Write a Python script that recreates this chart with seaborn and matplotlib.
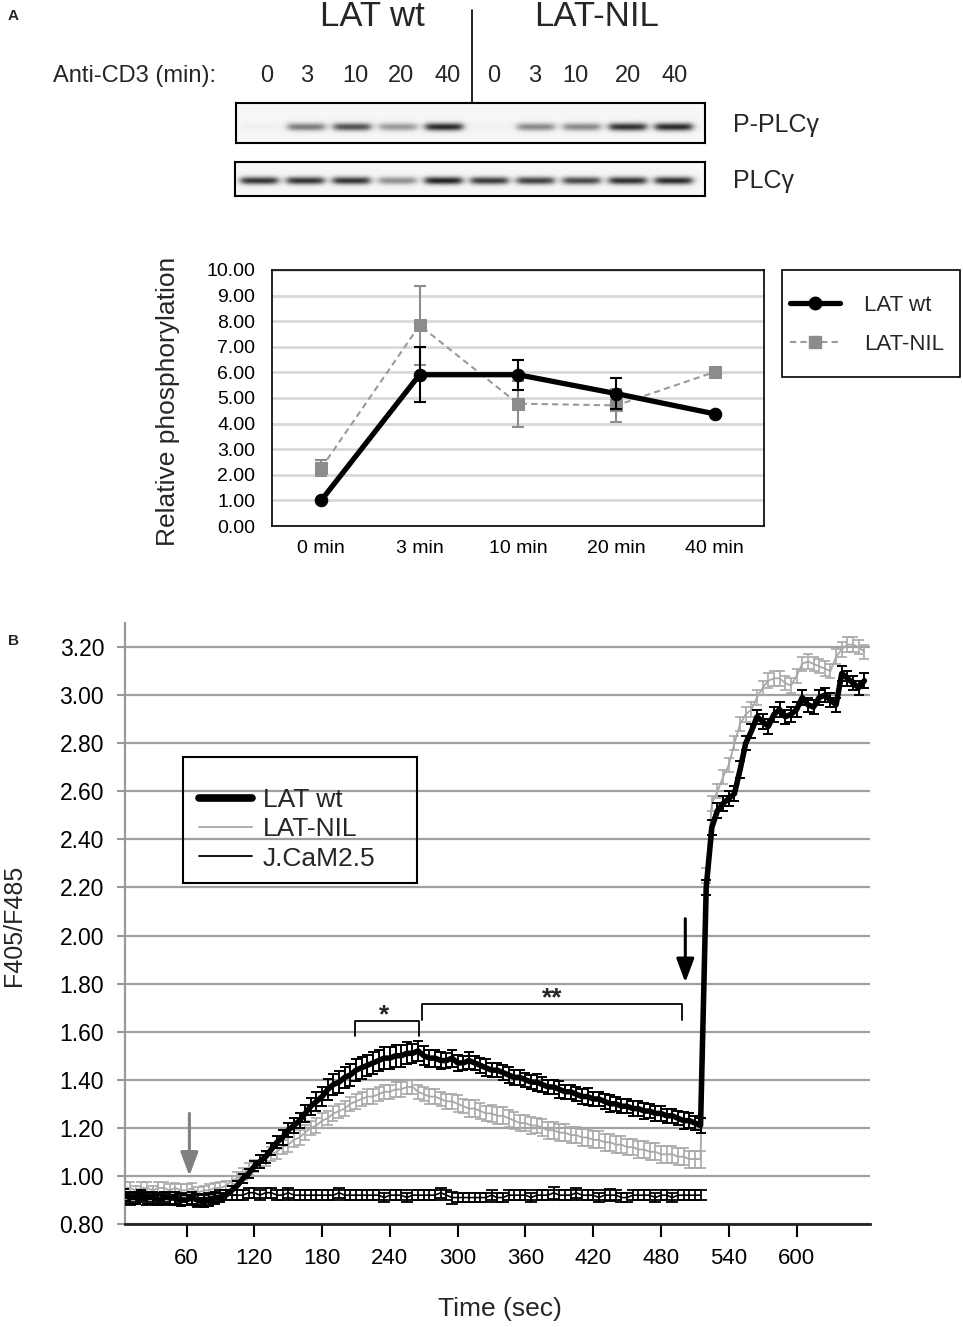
import matplotlib
matplotlib.use("Agg")
import numpy as np
import pandas as pd
import matplotlib.pyplot as plt
from matplotlib.lines import Line2D
from matplotlib.patches import Rectangle
import seaborn as sns

# ------------------------------------------------------------------ data
# Panel A - western blot
lane_times = ["0", "3", "10", "20", "40", "0", "3", "10", "20", "40"]
blot_groups = ["LAT wt", "LAT-NIL"]
blot_rows = ["P-PLC\u03b3", "PLC\u03b3"]
p_plc_band = [0.03, 0.50, 0.68, 0.38, 0.85, 0.02, 0.45, 0.45, 0.82, 0.85]
plc_band = [0.80, 0.80, 0.80, 0.42, 0.88, 0.78, 0.75, 0.72, 0.82, 0.84]

# Panel A - quantification
timepoints_a = ["0 min", "3 min", "10 min", "20 min", "40 min"]
wt_rel = [1.00, 5.91, 5.91, 5.17, 4.38]
wt_rel_err = [0.0, 1.07, 0.58, 0.60, 0.0]
nil_rel = [2.26, 7.84, 4.78, 4.71, 6.02]
nil_rel_err = [0.31, 1.55, 0.90, 0.64, 0.0]
yticks_a = [0, 1, 2, 3, 4, 5, 6, 7, 8, 9, 10]

# Panel B - calcium flux (F405/F485), one reading every 5 s
time_b = list(range(5, 665, 5))
wt_ratio = [
    0.92, 0.91, 0.91, 0.92, 0.91, 0.91, 0.90, 0.91, 0.91, 0.91,
    0.90, 0.90, 0.91, 0.90, 0.89, 0.90, 0.91, 0.91, 0.92,
    0.94, 0.96, 0.99, 1.01, 1.04, 1.06, 1.08, 1.11, 1.14, 1.16,
    1.19, 1.21, 1.23, 1.26, 1.29, 1.31, 1.33, 1.36, 1.38, 1.39,
    1.41, 1.42, 1.44, 1.45, 1.46, 1.47, 1.48, 1.49, 1.49, 1.50,
    1.50, 1.51, 1.51, 1.52, 1.50, 1.49, 1.49, 1.48, 1.48, 1.49,
    1.47, 1.47, 1.48, 1.47, 1.46, 1.45, 1.44, 1.44, 1.43, 1.42,
    1.41, 1.41, 1.40, 1.39, 1.39, 1.38, 1.37, 1.37, 1.36, 1.35,
    1.35, 1.34, 1.33, 1.33, 1.32, 1.32, 1.31, 1.30, 1.30, 1.29,
    1.29, 1.28, 1.28, 1.27, 1.27, 1.26, 1.26, 1.25, 1.25, 1.24,
    1.23, 1.23, 1.22, 1.21,
    2.20, 2.45, 2.52, 2.55, 2.57, 2.59, 2.69, 2.80, 2.85, 2.91,
    2.89, 2.87, 2.92, 2.94, 2.91, 2.92, 2.94, 2.99, 2.96, 2.95,
    2.99, 3.00, 2.98, 2.96, 3.09, 3.07, 3.05, 3.03, 3.06,
]
wt_ratio_err = [
    0.025, 0.025, 0.025, 0.020, 0.025, 0.025, 0.020, 0.025, 0.025, 0.025,
    0.025, 0.020, 0.025, 0.025, 0.020, 0.025, 0.025, 0.020, 0.020,
    0.020, 0.020, 0.020, 0.020, 0.020, 0.025, 0.025, 0.025, 0.025, 0.030,
    0.030, 0.030, 0.030, 0.035, 0.035, 0.040, 0.040, 0.045, 0.045, 0.045,
    0.045, 0.045, 0.045, 0.045, 0.045, 0.045, 0.045, 0.045, 0.045, 0.045,
    0.045, 0.045, 0.040, 0.040, 0.040, 0.035, 0.035, 0.035, 0.030, 0.035,
    0.035, 0.030, 0.035, 0.030, 0.030, 0.035, 0.030, 0.030, 0.030, 0.035,
    0.030, 0.030, 0.030, 0.030, 0.035, 0.030, 0.030, 0.030, 0.035, 0.030,
    0.030, 0.030, 0.030, 0.035, 0.030, 0.030, 0.030, 0.035, 0.030, 0.030,
    0.030, 0.030, 0.030, 0.035, 0.030, 0.030, 0.030, 0.030, 0.030, 0.030,
    0.035, 0.030, 0.030, 0.030,
    0.030, 0.030, 0.030, 0.030, 0.030, 0.030, 0.035, 0.030, 0.030, 0.030,
    0.030, 0.030, 0.030, 0.030, 0.030, 0.030, 0.030, 0.030, 0.030, 0.030,
    0.030, 0.030, 0.030, 0.030, 0.030, 0.030, 0.030, 0.030, 0.030,
]
nil_ratio = [
    0.95, 0.95, 0.94, 0.95, 0.95, 0.94, 0.95, 0.95, 0.94, 0.95,
    0.94, 0.94, 0.95, 0.93, 0.94, 0.94, 0.95, 0.95, 0.96,
    0.98, 0.99, 1.01, 1.03, 1.04, 1.06, 1.07, 1.09, 1.10, 1.12,
    1.13, 1.15, 1.16, 1.18, 1.20, 1.21, 1.23, 1.24, 1.26, 1.27,
    1.28, 1.30, 1.31, 1.32, 1.33, 1.33, 1.34, 1.35, 1.35, 1.36,
    1.36, 1.37, 1.37, 1.35, 1.34, 1.33, 1.33, 1.32, 1.31, 1.31,
    1.30, 1.29, 1.28, 1.28, 1.27, 1.26, 1.26, 1.25, 1.25, 1.24,
    1.23, 1.22, 1.22, 1.21, 1.21, 1.20, 1.19, 1.19, 1.18, 1.18,
    1.17, 1.17, 1.16, 1.16, 1.15, 1.15, 1.14, 1.14, 1.13, 1.13,
    1.12, 1.12, 1.11, 1.11, 1.10, 1.10, 1.09, 1.09, 1.09, 1.08,
    1.08, 1.07, 1.07, 1.07,
    2.25, 2.55, 2.60, 2.66, 2.71, 2.80, 2.88, 2.92, 2.94, 2.99,
    3.03, 3.06, 3.07, 3.07, 3.05, 3.04, 3.08, 3.13, 3.14, 3.13,
    3.12, 3.11, 3.10, 3.16, 3.19, 3.21, 3.21, 3.20, 3.18,
]
nil_ratio_err = [
    0.025, 0.025, 0.020, 0.025, 0.025, 0.020, 0.025, 0.025, 0.025, 0.020,
    0.025, 0.025, 0.020, 0.025, 0.020, 0.025, 0.020, 0.025, 0.020,
    0.020, 0.025, 0.025, 0.025, 0.025, 0.025, 0.030, 0.030, 0.030, 0.030,
    0.030, 0.030, 0.030, 0.030, 0.030, 0.030, 0.030, 0.030, 0.030, 0.030,
    0.030, 0.030, 0.030, 0.030, 0.030, 0.030, 0.030, 0.030, 0.030, 0.030,
    0.030, 0.030, 0.030, 0.030, 0.030, 0.030, 0.030, 0.030, 0.030, 0.030,
    0.035, 0.030, 0.035, 0.035, 0.035, 0.030, 0.035, 0.035, 0.035, 0.035,
    0.035, 0.035, 0.035, 0.035, 0.030, 0.035, 0.035, 0.035, 0.035, 0.035,
    0.035, 0.035, 0.035, 0.035, 0.035, 0.035, 0.035, 0.035, 0.035, 0.035,
    0.035, 0.035, 0.035, 0.035, 0.035, 0.035, 0.035, 0.035, 0.035, 0.035,
    0.035, 0.035, 0.035, 0.035,
    0.030, 0.030, 0.030, 0.030, 0.030, 0.030, 0.030, 0.030, 0.030, 0.030,
    0.030, 0.030, 0.030, 0.030, 0.030, 0.030, 0.030, 0.030, 0.030, 0.030,
    0.030, 0.030, 0.030, 0.030, 0.030, 0.030, 0.030, 0.030, 0.030,
]
jcam_ratio = [
    0.91, 0.90, 0.91, 0.91, 0.90, 0.91, 0.90, 0.91, 0.90, 0.90,
    0.91, 0.90, 0.90, 0.89, 0.90, 0.91, 0.91, 0.92, 0.92, 0.92,
    0.92, 0.92, 0.93, 0.93, 0.92, 0.93, 0.93, 0.92, 0.92, 0.93,
    0.92, 0.92, 0.92, 0.92, 0.92, 0.92, 0.92, 0.92, 0.93, 0.92,
    0.92, 0.92, 0.92, 0.92, 0.92, 0.92, 0.91, 0.92, 0.92, 0.92,
    0.91, 0.92, 0.92, 0.92, 0.92, 0.92, 0.93, 0.92, 0.91, 0.91,
    0.91, 0.91, 0.91, 0.91, 0.91, 0.92, 0.91, 0.91, 0.92, 0.92,
    0.92, 0.92, 0.91, 0.92, 0.92, 0.92, 0.93, 0.92, 0.92, 0.92,
    0.93, 0.92, 0.92, 0.92, 0.91, 0.92, 0.92, 0.92, 0.91, 0.91,
    0.92, 0.92, 0.92, 0.92, 0.91, 0.92, 0.92, 0.91, 0.92, 0.92,
    0.92, 0.92, 0.92,
]
jcam_ratio_err = [
    0.020, 0.020, 0.020, 0.020, 0.020, 0.020, 0.020, 0.020, 0.020, 0.020,
    0.020, 0.020, 0.020, 0.020, 0.020, 0.020, 0.020, 0.020, 0.020, 0.020,
    0.020, 0.020, 0.020, 0.020, 0.020, 0.020, 0.020, 0.020, 0.020, 0.020,
    0.020, 0.020, 0.020, 0.020, 0.020, 0.020, 0.020, 0.020, 0.020, 0.020,
    0.020, 0.020, 0.020, 0.020, 0.020, 0.020, 0.020, 0.020, 0.020, 0.020,
    0.020, 0.020, 0.020, 0.020, 0.020, 0.020, 0.020, 0.020, 0.025, 0.020,
    0.020, 0.020, 0.020, 0.020, 0.020, 0.020, 0.020, 0.020, 0.020, 0.020,
    0.020, 0.020, 0.020, 0.020, 0.020, 0.020, 0.025, 0.020, 0.020, 0.020,
    0.020, 0.020, 0.020, 0.020, 0.020, 0.020, 0.025, 0.020, 0.020, 0.020,
    0.020, 0.020, 0.020, 0.020, 0.020, 0.020, 0.020, 0.020, 0.020, 0.020,
    0.020, 0.020, 0.020,
]
series_b = ["LAT wt", "LAT-NIL", "J.CaM2.5"]
yticks_b = [0.80, 1.00, 1.20, 1.40, 1.60, 1.80, 2.00, 2.20, 2.40, 2.60, 2.80, 3.00, 3.20]
xticks_b = [60, 120, 180, 240, 300, 360, 420, 480, 540, 600]

# ------------------------------------------------------------------ setup
W, H = 963, 1327
sns.set_theme(style="white")
plt.rcParams["font.family"] = ["Liberation Sans", "DejaVu Sans"]
NARROW = ["Liberation Sans Narrow", "Liberation Sans", "DejaVu Sans"]

fig = plt.figure(figsize=(W / 100, H / 100), dpi=100)
fig.patch.set_facecolor("white")


def fx(px):
    return px / W


def fy(py):
    return 1 - py / H


def rect(l, t, r, b):
    return [fx(l), fy(b), (r - l) / W, (b - t) / H]


# ------------------------------------------------------------------ panel A blots
lane_lim = (-0.52, 9.67)


def draw_blot(r, intensities, band_pos, thick):
    ax = fig.add_axes(r)
    xs = np.linspace(lane_lim[0], lane_lim[1], 470)
    ys = np.linspace(0, 1, 80)
    X, Y = np.meshgrid(xs, ys)
    img = np.full(X.shape, 0.965)
    for i, inten in enumerate(intensities):
        hprof = 1 / (1 + np.exp((np.abs(X - i) - 0.40) / 0.05))
        vprof = np.exp(-0.5 * ((Y - band_pos + 0.03 * (X - i) ** 2) / thick) ** 2)
        img -= inten * 0.95 * hprof * vprof
    ax.imshow(np.clip(img, 0, 1), cmap="gray", vmin=0, vmax=1,
              extent=(lane_lim[0], lane_lim[1], 1, 0), aspect="auto",
              interpolation="bilinear")
    ax.set_xlim(lane_lim)
    ax.set_ylim(1, 0)
    ax.set_xticks([])
    ax.set_yticks([])
    for s in ax.spines.values():
        s.set_visible(True)
        s.set_color("black")
        s.set_linewidth(1.5)
    return ax


ax_b1 = draw_blot(rect(236, 103, 705, 143), p_plc_band, 0.60, 0.07)
ax_b2 = draw_blot(rect(235, 162, 705, 196), plc_band, 0.55, 0.08)

fig.text(fx(733), fy(125), blot_rows[0], fontsize=18, va="center", ha="left", family=NARROW)
fig.text(fx(733), fy(181), blot_rows[1], fontsize=18, va="center", ha="left", family=NARROW)

fig.text(fx(372), fy(17), blot_groups[0], fontsize=25, ha="center", va="center", family=NARROW)
fig.text(fx(597), fy(17), blot_groups[1], fontsize=25, ha="center", va="center", family=NARROW)
fig.add_artist(Line2D([fx(472), fx(472)], [fy(10), fy(103)], color="black", lw=1.2))

fig.text(fx(53), fy(76), "Anti-CD3 (min):", fontsize=17, ha="left", va="center", family=NARROW)
lane_label_px = [267, 307, 355, 401, 448, 494, 535, 575, 628, 675]
for px, lab in zip(lane_label_px, lane_times):
    fig.text(fx(px), fy(76), lab, fontsize=17, ha="center", va="center", family=NARROW)

fig.text(fx(8), fy(16), "A", fontsize=11, fontweight="bold", ha="left", va="center")
fig.text(fx(8), fy(641), "B", fontsize=11, fontweight="bold", ha="left", va="center")

# ------------------------------------------------------------------ panel A chart
axA = fig.add_axes(rect(272, 270, 764, 526))
xa = np.arange(len(timepoints_a))
dfA = pd.DataFrame({"pos": np.concatenate([xa, xa]),
                    "value": wt_rel + nil_rel,
                    "group": ["LAT wt"] * len(xa) + ["LAT-NIL"] * len(xa)})

nil_col = "#8c8c8c"
axA.errorbar(xa, nil_rel, yerr=nil_rel_err, fmt="none", ecolor=nil_col,
             elinewidth=1.5, capsize=4, capthick=1.5, zorder=2)
sns.lineplot(data=dfA[dfA.group == "LAT-NIL"], x="pos", y="value", ax=axA,
             color="#9a9a9a", lw=1.5, linestyle=(0, (3, 2)), marker="s", markersize=9,
             markerfacecolor=nil_col, markeredgecolor=nil_col, zorder=3, legend=False)
axA.errorbar(xa, wt_rel, yerr=wt_rel_err, fmt="none", ecolor="black",
             elinewidth=1.5, capsize=4, capthick=1.5, zorder=4)
sns.lineplot(data=dfA[dfA.group == "LAT wt"], x="pos", y="value", ax=axA,
             color="black", lw=3.8, marker="o", markersize=9,
             markerfacecolor="black", markeredgecolor="black", zorder=5, legend=False)

axA.set_xlim(-0.5, len(xa) - 0.5)
axA.set_ylim(0, 10)
axA.set_yticks(yticks_a)
axA.set_yticklabels([f"{v:.2f}" for v in yticks_a], family=NARROW)
axA.set_xticks(xa)
axA.set_xticklabels(timepoints_a, family=NARROW)
axA.tick_params(axis="both", length=0, labelsize=14, colors="black")
axA.tick_params(axis="y", pad=12)
axA.tick_params(axis="x", pad=10)
axA.set_xlabel("")
axA.set_ylabel("")
axA.grid(axis="y", color="#d9d9d9", lw=2)
axA.grid(axis="x", visible=False)
axA.set_axisbelow(True)
for s in axA.spines.values():
    s.set_visible(True)
    s.set_color("black")
    s.set_linewidth(1.2)

fig.text(fx(168), fy(401), "Relative phosphorylation", rotation=90, fontsize=19,
         ha="center", va="center")

# legend A
fig.add_artist(Rectangle((fx(782), fy(377)), (960 - 782) / W, (377 - 270) / H,
                         transform=fig.transFigure, fill=False, edgecolor="black", lw=1.2))
hA = [Line2D([], [], color="black", lw=3.8, marker="o", markersize=9),
      Line2D([], [], color="#9a9a9a", lw=1.5, linestyle=(0, (3, 2)), marker="s",
             markersize=9, markerfacecolor=nil_col, markeredgecolor=nil_col)]
fig.legend(hA, ["LAT wt", "LAT-NIL"], loc="upper left",
           bbox_to_anchor=(fx(790), fy(295)), bbox_transform=fig.transFigure,
           frameon=False, handlelength=2.25, handletextpad=1.1,
           labelspacing=0.8, borderpad=0, borderaxespad=0,
           prop={"family": NARROW, "size": 16})

# ------------------------------------------------------------------ panel B
axB = fig.add_axes(rect(125, 623, 870, 1224))
grey_b = "#a8a8a8"

dfB = pd.DataFrame({"time": time_b, "LAT wt": wt_ratio, "LAT-NIL": nil_ratio})
dfJ = pd.DataFrame({"time": time_b[:len(jcam_ratio)], "J.CaM2.5": jcam_ratio})

axB.errorbar(time_b, nil_ratio, yerr=nil_ratio_err, fmt="none", ecolor=grey_b,
             elinewidth=1.2, capsize=3.8, capthick=1.2, zorder=2)
sns.lineplot(data=dfB, x="time", y="LAT-NIL", ax=axB, color=grey_b, lw=1.3, zorder=3)
axB.errorbar(dfJ["time"], jcam_ratio, yerr=jcam_ratio_err, fmt="none", ecolor="black",
             elinewidth=1.3, capsize=4, capthick=1.3, zorder=4)
sns.lineplot(data=dfJ, x="time", y="J.CaM2.5", ax=axB, color="black", lw=1.2, zorder=4)
axB.errorbar(time_b, wt_ratio, yerr=wt_ratio_err, fmt="none", ecolor="black",
             elinewidth=1.4, capsize=3.8, capthick=1.4, zorder=5)
sns.lineplot(data=dfB, x="time", y="LAT wt", ax=axB, color="black", lw=4.0, zorder=6)

axB.set_xlim(5.5, 665)
axB.set_ylim(0.80, 3.30)
axB.set_yticks(yticks_b)
axB.set_yticklabels([f"{v:.2f}" for v in yticks_b])
axB.set_xticks(xticks_b)
axB.set_xticklabels([str(v) for v in xticks_b], family=NARROW)
axB.tick_params(axis="y", length=6, width=1.5, color="#999999", labelsize=16.5,
                pad=9, left=True, labelcolor="black")
axB.tick_params(axis="x", length=9, width=1.5, color="black", labelsize=16,
                pad=8, bottom=True, labelcolor="black", direction="out")
axB.grid(axis="y", color="#a0a0a0", lw=1.6)
axB.grid(axis="x", visible=False)
axB.set_axisbelow(True)
axB.set_xlabel("")
axB.set_ylabel("")
for side in ["top", "right"]:
    axB.spines[side].set_visible(False)
axB.spines["left"].set_color("#999999")
axB.spines["left"].set_linewidth(1.6)
axB.spines["bottom"].set_color("#222222")
axB.spines["bottom"].set_linewidth(2.0)

fig.text(fx(14), fy(925), "F405/F485", rotation=90, fontsize=18, ha="center", va="center")
fig.text(fx(500), fy(1309), "Time (sec)", fontsize=19, ha="center", va="center", family=NARROW)

# significance brackets and stimulus arrows
axB.plot([209, 209, 265.5, 265.5], [1.58, 1.645, 1.645, 1.58], color="black", lw=1.3)
axB.text(235, 1.668, "*", fontsize=19, ha="center", va="center", fontweight="bold")
axB.plot([268, 268, 499, 499], [1.648, 1.715, 1.715, 1.648], color="black", lw=1.3)
axB.text(384, 1.738, "**", fontsize=19, ha="center", va="center", fontweight="bold")
axB.annotate("", xy=(62.5, 1.00), xytext=(62.5, 1.26),
             arrowprops=dict(arrowstyle="-|>,head_length=1.2,head_width=0.45",
                             color="#808080", lw=2.2, shrinkA=0, shrinkB=0))
axB.annotate("", xy=(501.5, 1.805), xytext=(501.5, 2.07),
             arrowprops=dict(arrowstyle="-|>,head_length=1.2,head_width=0.45",
                             color="black", lw=2.2, shrinkA=0, shrinkB=0))

# legend B
fig.add_artist(Rectangle((fx(183), fy(883)), (417 - 183) / W, (883 - 757) / H,
                         transform=fig.transFigure, fill=False, edgecolor="black", lw=1.5))
hB = [Line2D([], [], color="black", lw=5.5),
      Line2D([], [], color=grey_b, lw=1.3),
      Line2D([], [], color="black", lw=1.3)]
fig.legend(hB, series_b, loc="upper left",
           bbox_to_anchor=(fx(199), fy(788)), bbox_transform=fig.transFigure,
           frameon=False, handlelength=2.0, handletextpad=0.42,
           labelspacing=0.2, borderpad=0, borderaxespad=0,
           prop={"family": ["Liberation Sans", "DejaVu Sans"], "size": 19})

fig.savefig("out.png", dpi=100, facecolor="white")
